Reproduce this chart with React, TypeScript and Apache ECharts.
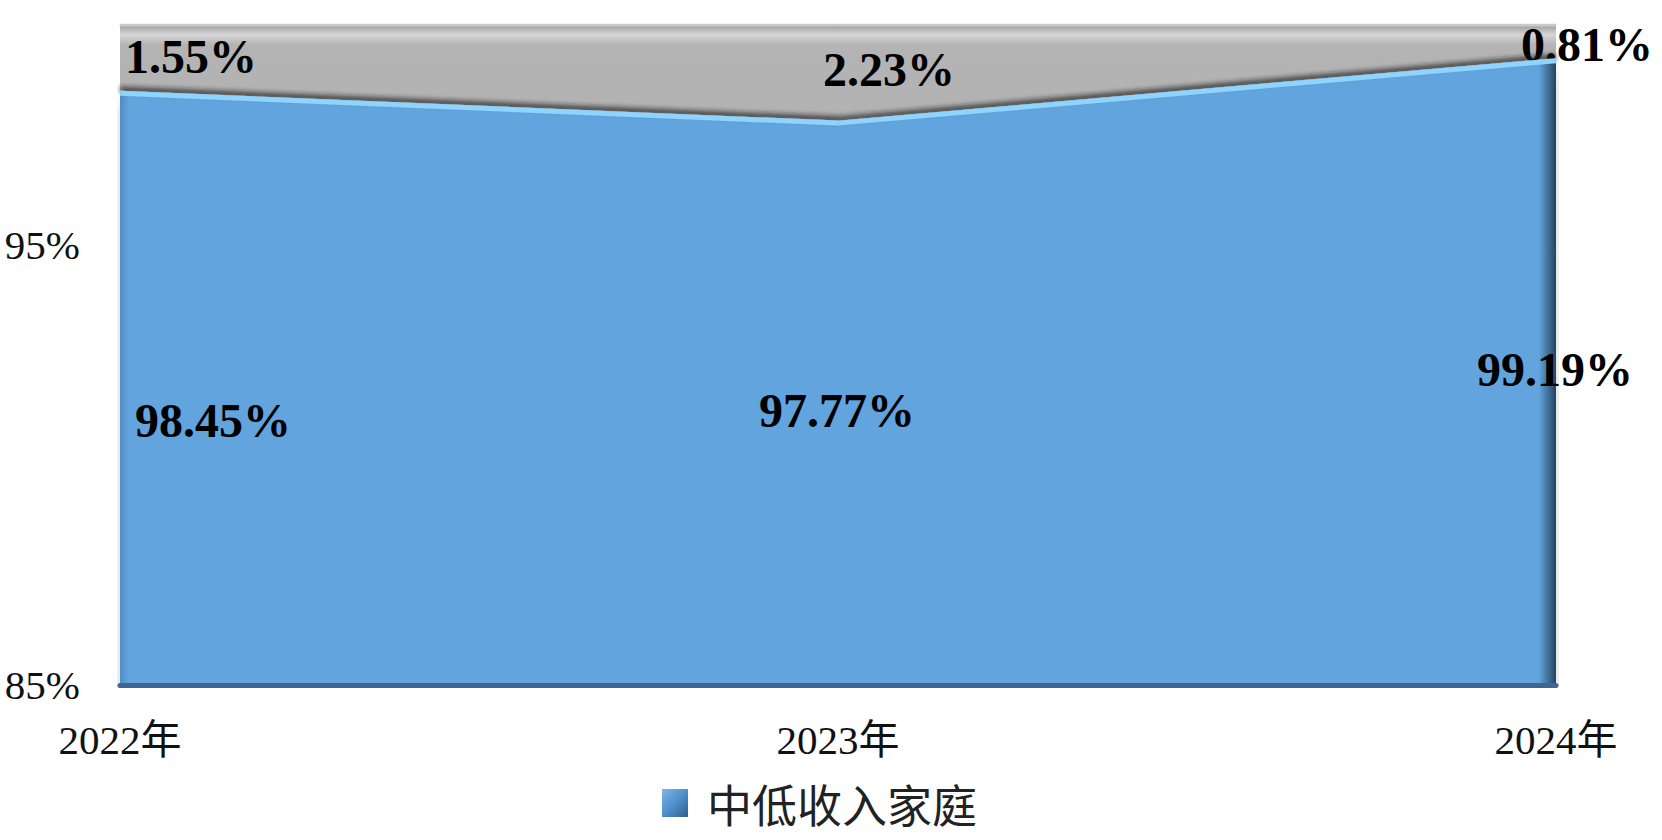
import React, { useEffect, useRef } from "react";
import * as echarts from "echarts";

const categories = ["2022年", "2023年", "2024年"];
const lowMidIncome = [98.45, 97.77, 99.19];
const otherShare = [1.55, 2.23, 0.81];
const legendName = "中低收入家庭";
const yMin = 85;
const yMax = 100;
const yTickLabels = [85, 95];

const blueLabelOffsets = [[93, 327], [-1, 287], [-1, 309]];
const grayLabelOffsets = [[71, 31], [51, 44], [31, 19]];

const SERIF = "'Liberation Serif', 'Times New Roman', 'Noto Sans CJK SC', serif";

export default function App() {
  const ref = useRef<HTMLDivElement>(null);
  useEffect(() => {
    const chart = echarts.init(ref.current!, null, { renderer: "svg" });
    const valueLabel = {
      show: true,
      position: "inside",
      color: "#000",
      fontFamily: SERIF,
      fontWeight: "bold",
      fontSize: 48,
      formatter: (p: any) => p.value.toFixed(2) + "%",
    };
    chart.setOption({
      animation: false,
      grid: { left: 120, right: 106, top: 25, bottom: 155, containLabel: false },
      legend: {
        left: 657,
        top: 770,
        itemWidth: 26,
        itemHeight: 28,
        icon: "rect",
        textStyle: {
          fontFamily: "'Noto Sans CJK SC', sans-serif",
          fontSize: 45,
          lineHeight: 56,
          color: "#222",
          padding: [0, 0, 0, 14],
        },
        data: [
          {
            name: legendName,
            itemStyle: {
              color: {
                type: "linear", x: 0, y: 0, x2: 1, y2: 1,
                colorStops: [
                  { offset: 0, color: "#7db6ea" },
                  { offset: 0.5, color: "#4f8fcb" },
                  { offset: 1, color: "#2f5f8f" },
                ],
              },
            },
          },
        ],
      },
      xAxis: {
        type: "category",
        boundaryGap: false,
        data: categories,
        axisTick: { show: false },
        axisLine: { show: true, lineStyle: { color: "#3d6690", width: 5 } },
        axisLabel: {
          fontFamily: SERIF,
          fontSize: 41,
          color: "#111",
          margin: 34,
        },
        z: 5,
      },
      yAxis: {
        type: "value",
        min: yMin,
        max: yMax,
        interval: 5,
        splitLine: { show: false },
        axisLine: { show: false },
        axisTick: { show: false },
        axisLabel: {
          fontFamily: SERIF,
          fontSize: 41,
          color: "#111",
          margin: 40,
          formatter: (v: number) => (yTickLabels.includes(Math.round(v)) ? Math.round(v) + "%" : ""),
        },
      },
      series: [
        {
          name: legendName,
          type: "line",
          stack: "total",
          symbol: "circle",
          symbolSize: 1,
          itemStyle: { color: "#62A4DE" },
          lineStyle: {
            color: "#8fd3ff",
            width: 5,
            shadowColor: "rgba(30,30,30,0.8)",
            shadowBlur: 5,
            shadowOffsetY: -4,
          },
          areaStyle: {
            opacity: 1,
            color: {
              type: "linear", x: 0, y: 0, x2: 1, y2: 0,
              colorStops: [
                { offset: 0, color: "#4f8cc4" },
                { offset: 0.006, color: "#62A4DE" },
                { offset: 0.988, color: "#62A4DE" },
                { offset: 1, color: "#27445f" },
              ],
            },
            shadowColor: "rgba(0,0,0,0.18)",
            shadowBlur: 14,
            shadowOffsetY: 10,
          },
          label: valueLabel,
          data: lowMidIncome.map((v, i) => ({
            value: v,
            label: { offset: blueLabelOffsets[i] },
          })),
          z: 3,
        },
        {
          name: "其他",
          type: "line",
          stack: "total",
          symbol: "circle",
          symbolSize: 1,
          itemStyle: { color: "#B2B2B2" },
          lineStyle: { color: "#c9c9c9", width: 3 },
          areaStyle: {
            opacity: 1,
            color: {
              type: "linear", x: 0, y: 0, x2: 0, y2: 1,
              colorStops: [
                { offset: 0, color: "#9c9c9c" },
                { offset: 0.1, color: "#d6d6d6" },
                { offset: 0.2, color: "#b4b4b4" },
                { offset: 1, color: "#b2b2b2" },
              ],
            },
          },
          label: valueLabel,
          data: otherShare.map((v, i) => ({
            value: v,
            label: { offset: grayLabelOffsets[i] },
          })),
          z: 2,
        },
      ],
    });
    return () => chart.dispose();
  }, []);
  return (
    <div
      ref={ref}
      style={{ position: "fixed", left: 0, top: 0, width: 1662, height: 840, background: "#fff" }}
    />
  );
}
